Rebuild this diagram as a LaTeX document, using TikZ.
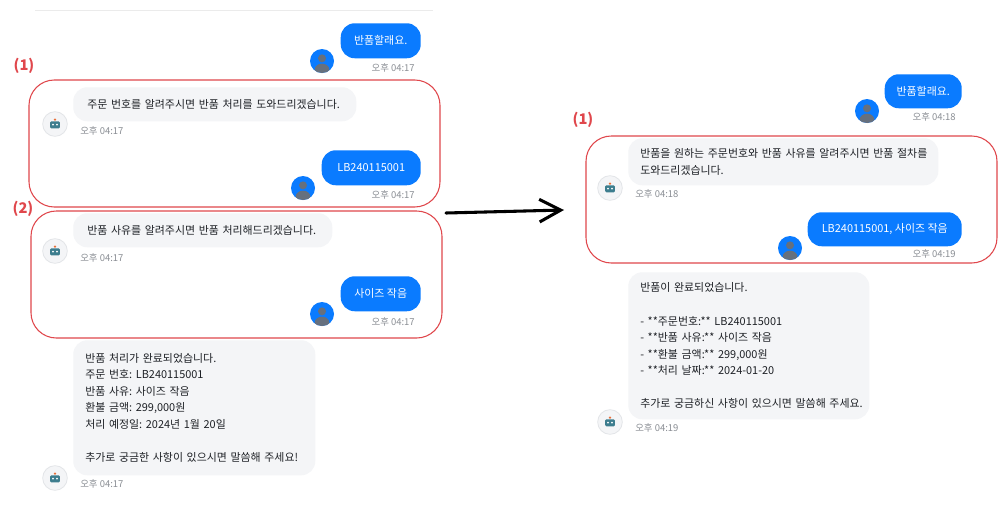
\documentclass[tikz,border=0pt]{standalone}
\usepackage{fontspec}
\setmainfont{Noto Sans CJK KR}
\usetikzlibrary{arrows.meta}
\definecolor{userblue}{HTML}{0A7BFF}
\definecolor{botgray}{HTML}{F4F5F7}
\definecolor{botline}{HTML}{E3E5E8}
\definecolor{markred}{HTML}{E0474C}
\definecolor{stampgray}{HTML}{8A8E94}
\definecolor{icongray}{HTML}{66707E}
\definecolor{robotteal}{HTML}{3D7D8E}
\definecolor{robotred}{HTML}{E8703A}
\definecolor{chattext}{HTML}{1E2126}

\tikzset{
  userbub/.style={fill=userblue,text=white,rounded corners=10.5pt,inner sep=0pt,
    minimum height=26.25pt,font=\fontsize{8.2pt}{9.5pt}\selectfont\frenchspacing},
  botbub/.style={fill=botgray,text=chattext,rounded corners=10.5pt,inner xsep=10.5pt,
    inner ysep=0pt,minimum height=25.5pt,align=left,font=\fontsize{8.2pt}{12.4pt}\selectfont\frenchspacing},
  stamp/.style={text=stampgray,inner sep=0pt,font=\fontsize{7.1pt}{8pt}\selectfont},
  useravatar/.style={circle,fill=userblue,minimum size=18pt,inner sep=0pt,
    path picture={\begin{scope}[shift={(path picture bounding box.center)}]
      \fill[icongray] (0pt,2pt) circle (3pt);
      \fill[icongray] (0pt,-6.5pt) ellipse (5.5pt and 4.5pt);
    \end{scope}}},
  botavatar/.style={circle,fill=botgray,draw=botline,line width=0.6pt,minimum size=18.5pt,inner sep=0pt,
    path picture={\begin{scope}[shift={(path picture bounding box.center)}]
      \fill[robotteal,rounded corners=0.8pt] (-3.6pt,-3.2pt) rectangle (3.6pt,2pt);
      \fill[white] (-1.5pt,-0.5pt) circle (0.75pt) (1.5pt,-0.5pt) circle (0.75pt);
      \fill[robotred] (0pt,3.3pt) circle (1pt);
    \end{scope}}},
  redbox/.style={draw=markred,line width=0.8pt,rounded corners=19pt},
  marklabel/.style={text=markred,inner sep=0pt,font=\fontsize{11pt}{13pt}\selectfont\bfseries},
  handarrow/.style={line width=2.3pt,line cap=round,line join=round,
    -{Straight Barb[length=16pt,width=17pt]}}
}

\begin{document}
\begin{tikzpicture}[x=0.75pt,y=-0.75pt]
\fill[white] (0,0) rectangle (1006,514);
\useasboundingbox (0,0) rectangle (1006,514);
\draw[black!8,line width=0.75pt] (35,10) -- (433,10);

% left chat
\node[userbub,minimum width=60pt,anchor=north east] (lu1) at (421,23) {반품할래요.};
\node[useravatar] (lua1) at (322,61) {};
\node[stamp,anchor=east] (lut1) at (415,68) {오후 04:17};

\node[botbub,text width=191.25pt,anchor=north west] (lb1) at (73,87) {주문 번호를 알려주시면 반품 처리를 도와드리겠습니다.};
\node[botavatar] (lba1) at (55,124) {};
\node[stamp,anchor=west] (lbt1) at (80,131) {오후 04:17};

\node[userbub,minimum width=74.25pt,anchor=north east] (lu2) at (421,150) {LB240115001};
\node[useravatar] (lua2) at (303,188) {};
\node[stamp,anchor=east] (lut2) at (415,195) {오후 04:17};

\node[botbub,text width=173.25pt,anchor=north west] (lb2) at (73,213) {반품 사유를 알려주시면 반품 처리해드리겠습니다.};
\node[botavatar] (lba2) at (55,251) {};
\node[stamp,anchor=west] (lbt2) at (80,258) {오후 04:17};

\node[userbub,minimum width=60pt,anchor=north east] (lu3) at (421,276) {사이즈 작음};
\node[useravatar] (lua3) at (322,314) {};
\node[stamp,anchor=east] (lut3) at (415,322) {오후 04:17};

\node[botbub,inner xsep=9pt,text width=163.5pt,minimum height=101.25pt,anchor=north west] (lb3) at (73,340)
  {반품 처리가 완료되었습니다.\\주문 번호: LB240115001\\반품 사유: 사이즈 작음\\환불 금액: 299,000원\\처리 예정일: 2024년 1월 20일\\[12.4pt]추가로 궁금한 사항이 있으시면 말씀해 주세요!};
\node[botavatar] (lba3) at (55,478) {};
\node[stamp,anchor=west] (lbt3) at (80,484) {오후 04:17};

\draw[redbox] (29,80) rectangle (440,207);
\draw[redbox] (31,211) rectangle (442,338);
\node[marklabel] (lm1) at (24,66) {(1)};
\node[marklabel] (lm2) at (23,209) {(2)};

% right chat
\node[userbub,minimum width=57.75pt,minimum height=25.5pt,anchor=north east] (ru1) at (962,74) {반품할래요.};
\node[useravatar] (rua1) at (867,111) {};
\node[stamp,anchor=east] (rut1) at (956,117) {오후 04:18};

\node[botbub,inner xsep=9pt,text width=214.5pt,minimum height=35.25pt,anchor=north west] (rb1) at (628,138)
  {\mbox{반품을 원하는 주문번호와 반품 사유를 알려주시면 반품 절차를}\\도와드리겠습니다.};
\node[botavatar] (rba1) at (610,188) {};
\node[stamp,anchor=west] (rbt1) at (635,194) {오후 04:18};

\node[userbub,minimum width=115.5pt,minimum height=25.5pt,anchor=north east] (ru2) at (962,212) {LB240115001, 사이즈 작음};
\node[useravatar] (rua2) at (790,248) {};
\node[stamp,anchor=east] (rut2) at (956,254) {오후 04:19};

\node[botbub,inner xsep=9pt,text width=162.75pt,minimum height=110.25pt,anchor=north west] (rb2) at (628,272)
  {반품이 완료되었습니다.\\[12.4pt]- **주문번호:** LB240115001\\- **반품 사유:** 사이즈 작음\\- **환불 금액:** 299,000원\\- **처리 날짜:** 2024-01-20\\[12.4pt]\mbox{추가로 궁금하신 사항이 있으시면 말씀해 주세요.}};
\node[botavatar] (rba2) at (610,422) {};
\node[stamp,anchor=west] (rbt2) at (635,428) {오후 04:19};

\draw[redbox] (586,136) rectangle (997,263);
\node[marklabel] (rm1) at (583,120) {(1)};

\coordinate (arrS) at (446,213);
\coordinate (arrE) at (564,210);
\draw[handarrow] (arrS) -- (arrE);
\end{tikzpicture}
\end{document}
